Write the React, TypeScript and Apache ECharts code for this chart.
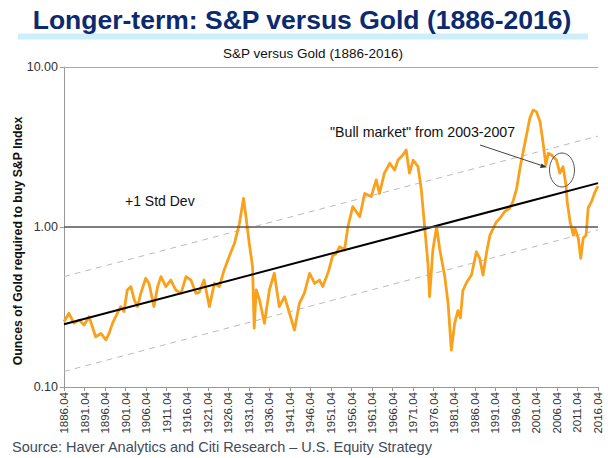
import React, { useEffect, useRef } from "react";
import * as echarts from "echarts";

// ---- data ----
const years = [
  1886.0, 1887.2, 1888.4, 1889.7, 1890.9, 1892.1, 1892.9, 1893.7, 1895.0, 1896.2,
  1897.0, 1897.8, 1898.6, 1899.8, 1900.6, 1901.4, 1902.3, 1903.1, 1903.9, 1904.7,
  1905.9, 1906.7, 1907.9, 1908.8, 1909.6, 1910.8, 1912.0, 1913.2, 1914.5, 1915.7,
  1916.9, 1918.1, 1918.9, 1920.1, 1921.4, 1922.6, 1923.8, 1925.0, 1926.2, 1927.5,
  1928.7, 1929.7, 1930.3, 1931.1, 1931.9, 1932.3, 1932.8, 1933.6, 1934.8, 1936.0,
  1937.2, 1938.4, 1939.7, 1940.9, 1942.1, 1943.3, 1944.5, 1945.8, 1947.0, 1948.2,
  1949.0, 1950.4, 1951.4, 1952.2, 1953.1, 1954.3, 1955.1, 1956.3, 1958.0, 1959.2,
  1960.8, 1962.0, 1962.8, 1964.0, 1965.3, 1966.5, 1967.3, 1968.5, 1969.3, 1970.1,
  1971.0, 1972.2, 1973.0, 1973.8, 1974.6, 1975.0, 1975.8, 1976.7, 1977.5, 1978.7,
  1979.5, 1980.3, 1981.1, 1981.9, 1982.5, 1983.1, 1984.0, 1985.2, 1986.4, 1987.2,
  1988.0, 1988.9, 1989.7, 1990.5, 1991.3, 1992.1, 1993.3, 1994.5, 1995.3, 1996.2,
  1997.0, 1997.8, 1998.6, 1999.4, 2000.2, 2001.0, 2001.9, 2002.7, 2003.3, 2003.9,
  2004.7, 2005.9, 2006.7, 2007.5, 2008.2, 2008.5, 2009.2, 2010.0, 2010.4, 2011.2,
  2011.8, 2012.4, 2013.1, 2013.6, 2014.4, 2015.3, 2016.0,
];
const spGoldRatio = [
  0.256, 0.289, 0.251, 0.262, 0.244, 0.275, 0.238, 0.206, 0.216, 0.197,
  0.217, 0.25, 0.275, 0.318, 0.296, 0.404, 0.424, 0.35, 0.318, 0.385,
  0.478, 0.444, 0.318, 0.424, 0.49, 0.424, 0.466, 0.404, 0.385, 0.49,
  0.466, 0.385, 0.39, 0.466, 0.318, 0.444, 0.424, 0.539, 0.652, 0.791,
  1.05, 1.51, 1.16, 0.79, 0.565, 0.233, 0.404, 0.35, 0.25, 0.404,
  0.514, 0.318, 0.367, 0.289, 0.227, 0.333, 0.385, 0.514, 0.444, 0.466,
  0.424, 0.53, 0.66, 0.68, 0.753, 0.718, 1.0, 1.34, 1.16, 1.62,
  1.55, 1.97, 1.62, 2.17, 2.5, 2.27, 2.62, 2.82, 3.03, 2.17,
  2.62, 2.38, 1.7, 1.0, 0.593, 0.367, 0.718, 1.0, 0.718, 0.49,
  0.333, 0.17, 0.25, 0.3, 0.27, 0.4, 0.45, 0.501, 0.7, 0.637,
  0.5, 0.7, 0.89, 0.98, 1.08, 1.13, 1.25, 1.31, 1.44, 1.74,
  2.33, 2.96, 3.76, 4.78, 5.38, 5.26, 4.55, 3.25, 2.44, 2.89,
  2.82, 2.62, 2.17, 2.38, 1.83, 1.44, 1.08, 0.89, 0.98, 0.85,
  0.637, 0.85, 0.89, 1.31, 1.44, 1.66, 1.8,
];
const trendYears = [1886, 2016];
const trendMid = [0.247, 1.88];
const trendUpper = [0.49, 3.7];
const trendLower = [0.125, 0.96];
const yTicks = [0.1, 1, 10];

const FONT = "'Liberation Sans', Arial, sans-serif";

export default function App() {
  const ref = useRef<HTMLDivElement>(null);
  useEffect(() => {
    if (!ref.current) return;
    const chart = echarts.init(ref.current, null, { renderer: "svg" });
    const pair = (xs: number[], ys: number[]) => xs.map((x, i) => [x, ys[i]]);
    chart.setOption({
      animation: false,
      backgroundColor: "#ffffff",
      textStyle: { fontFamily: FONT },
      graphic: [
        { type: "rect", shape: { x: 18, y: 33.5, width: 570, height: 6 }, style: { fill: "#cdeff9" }, z: 0 },
        {
          type: "text",
          x: 302,
          y: 19.5,
          z: 5,
          style: {
            text: "Longer-term: S&P versus Gold (1886-2016)",
            fontSize: 26.5,
            fontWeight: "bold",
            fontFamily: FONT,
            fill: "#0b2a6f",
            align: "center",
            verticalAlign: "middle",
          },
        },
        {
          type: "text",
          x: 313,
          y: 53,
          style: {
            text: "S&P versus Gold (1886-2016)",
            fontSize: 13.5,
            fontFamily: FONT,
            fill: "#111",
            align: "center",
            verticalAlign: "middle",
          },
        },
        {
          type: "text",
          x: 18,
          y: 241,
          rotation: Math.PI / 2,
          style: {
            text: "Ounces of Gold required to buy S&P Index",
            fontSize: 12.3,
            fontWeight: "bold",
            fontFamily: FONT,
            fill: "#111",
            align: "center",
            verticalAlign: "middle",
          },
        },
        {
          type: "text",
          x: 125,
          y: 201,
          style: { text: "+1 Std Dev", fontSize: 14, fontFamily: FONT, fill: "#111", align: "left", verticalAlign: "middle" },
        },
        {
          type: "text",
          x: 330,
          y: 132,
          style: { text: '"Bull market" from 2003-2007', fontSize: 14.2, fontFamily: FONT, fill: "#111", align: "left", verticalAlign: "middle" },
        },
        {
          type: "line",
          shape: { x1: 480, y1: 145, x2: 544, y2: 166.3 },
          style: { stroke: "#444", lineWidth: 1 },
          z: 20,
        },
        {
          type: "polygon",
          shape: { points: [[547, 167.3], [541.5, 163.5], [540, 168]] },
          style: { fill: "#333" },
          z: 20,
        },
        {
          type: "ellipse",
          shape: { cx: 562, cy: 170, rx: 12.5, ry: 17 },
          style: { fill: "none", stroke: "#555", lineWidth: 1 },
          z: 20,
        },
        {
          type: "text",
          x: 12,
          y: 447,
          style: {
            text: "Source: Haver Analytics and Citi Research \u2013 U.S. Equity Strategy",
            fontSize: 14.5,
            fontFamily: FONT,
            fill: "#3f4b5e",
            align: "left",
            verticalAlign: "middle",
          },
        },
      ],
      grid: { left: 64, right: 10, top: 67, bottom: 71, containLabel: false },
      xAxis: {
        type: "value",
        min: trendYears[0],
        max: trendYears[1],
        interval: 5,
        axisLine: { show: true, lineStyle: { color: "#999" } },
        axisTick: { show: true, length: 4, lineStyle: { color: "#999" } },
        splitLine: { show: false },
        axisLabel: {
          rotate: 90,
          fontSize: 11.5,
          margin: 5,
          color: "#333",
          fontFamily: FONT,
          formatter: (v: number) => `${v}.04`,
        },
      },
      yAxis: {
        type: "log",
        logBase: 10,
        min: yTicks[0],
        max: yTicks[2],
        axisLine: { show: true, lineStyle: { color: "#999" } },
        axisTick: { show: true, length: 4, lineStyle: { color: "#999" } },
        splitLine: { show: false },
        minorTick: { show: false },
        axisLabel: {
          fontSize: 12.5,
          color: "#333",
          margin: 6,
          fontFamily: FONT,
          formatter: (v: number) => v.toFixed(2),
        },
      },
      series: [
        {
          type: "line",
          data: pair(trendYears, trendUpper),
          symbol: "none",
          silent: true,
          lineStyle: { color: "#bbb", width: 1, type: [6, 5] },
          z: 1,
        },
        {
          type: "line",
          data: pair(trendYears, trendLower),
          symbol: "none",
          silent: true,
          lineStyle: { color: "#bbb", width: 1, type: [6, 5] },
          z: 1,
        },
        {
          type: "line",
          data: pair(years, spGoldRatio),
          symbol: "none",
          silent: true,
          lineStyle: { color: "#f9a11b", width: 2.8, join: "round" },
          z: 3,
          markLine: {
            silent: true,
            symbol: ["none", "none"],
            label: { show: false },
            data: [
              { yAxis: yTicks[1], lineStyle: { color: "#555", width: 1.6, type: "solid" } },
              { yAxis: yTicks[2], lineStyle: { color: "#aaa", width: 1, type: "solid" } },
            ],
          },
        },
        {
          type: "line",
          data: pair(trendYears, trendMid),
          symbol: "none",
          silent: true,
          lineStyle: { color: "#000", width: 2 },
          z: 4,
        },
      ],
    });
    return () => chart.dispose();
  }, []);
  return (
    <div
      ref={ref}
      style={{ position: "fixed", left: 0, top: 0, width: 608, height: 458 }}
    />
  );
}
